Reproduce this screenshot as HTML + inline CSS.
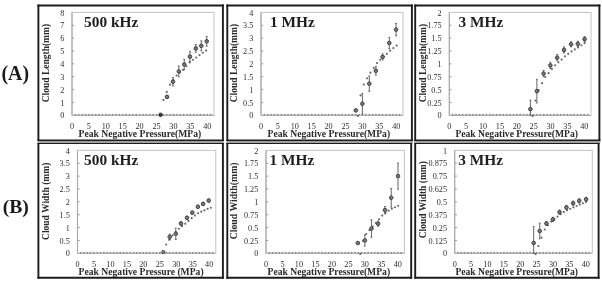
<!DOCTYPE html>
<html><head><meta charset="utf-8"><style>
html,body{margin:0;padding:0;background:#fff;}
body{width:602px;height:283px;overflow:hidden;font-family:"Liberation Serif",serif;}
svg{display:block;filter:blur(0.3px);}
</style></head><body>
<svg width="602" height="283" viewBox="0 0 602 283">
<rect x="0" y="0" width="602" height="283" fill="#fff"/>
<text x="1.5" y="79.5" font-family='"Liberation Serif", serif' font-weight="bold" font-size="20" fill="#1a1a1a" textLength="27.6" lengthAdjust="spacingAndGlyphs">(A)</text>
<text x="2.7" y="212.9" font-family='"Liberation Serif", serif' font-weight="bold" font-size="19.6" fill="#1a1a1a" textLength="26.2" lengthAdjust="spacingAndGlyphs">(B)</text>
<rect x="37.5" y="141" width="186.3" height="2.05" fill="#a0a0a0"/>
<rect x="226.4" y="141" width="186.4" height="2.05" fill="#a0a0a0"/>
<rect x="414.3" y="141" width="186" height="2.05" fill="#a0a0a0"/>
<line x1="37.449999999999996" y1="5.5" x2="223.85" y2="5.5" stroke="#1c1c1c" stroke-width="1.9"/>
<line x1="37.449999999999996" y1="140.3" x2="223.85" y2="140.3" stroke="#1c1c1c" stroke-width="1.4"/>
<line x1="38.4" y1="4.55" x2="38.4" y2="141.0" stroke="#1c1c1c" stroke-width="1.9"/>
<line x1="222.9" y1="4.55" x2="222.9" y2="141.0" stroke="#1c1c1c" stroke-width="1.9"/>
<rect x="72.0" y="12.4" width="142.00" height="102.90" fill="none" stroke="#c4c4c4" stroke-width="1"/>
<line x1="72.0" y1="12.4" x2="72.0" y2="115.3" stroke="#a8a8a8" stroke-width="1.1"/>
<line x1="72.0" y1="115.3" x2="214.0" y2="115.3" stroke="#a8a8a8" stroke-width="1.1"/>
<text x="64.30" y="118.40" text-anchor="end" font-family='"Liberation Serif", serif' font-size="8.2" fill="#2e2e2e">0</text>
<line x1="72.0" y1="102.44" x2="74.20" y2="102.44" stroke="#999" stroke-width="1"/>
<text x="64.30" y="105.54" text-anchor="end" font-family='"Liberation Serif", serif' font-size="8.2" fill="#2e2e2e">1</text>
<line x1="72.0" y1="89.58" x2="74.20" y2="89.58" stroke="#999" stroke-width="1"/>
<text x="64.30" y="92.67" text-anchor="end" font-family='"Liberation Serif", serif' font-size="8.2" fill="#2e2e2e">2</text>
<line x1="72.0" y1="76.71" x2="74.20" y2="76.71" stroke="#999" stroke-width="1"/>
<text x="64.30" y="79.81" text-anchor="end" font-family='"Liberation Serif", serif' font-size="8.2" fill="#2e2e2e">3</text>
<line x1="72.0" y1="63.85" x2="74.20" y2="63.85" stroke="#999" stroke-width="1"/>
<text x="64.30" y="66.95" text-anchor="end" font-family='"Liberation Serif", serif' font-size="8.2" fill="#2e2e2e">4</text>
<line x1="72.0" y1="50.99" x2="74.20" y2="50.99" stroke="#999" stroke-width="1"/>
<text x="64.30" y="54.09" text-anchor="end" font-family='"Liberation Serif", serif' font-size="8.2" fill="#2e2e2e">5</text>
<line x1="72.0" y1="38.12" x2="74.20" y2="38.12" stroke="#999" stroke-width="1"/>
<text x="64.30" y="41.23" text-anchor="end" font-family='"Liberation Serif", serif' font-size="8.2" fill="#2e2e2e">6</text>
<line x1="72.0" y1="25.26" x2="74.20" y2="25.26" stroke="#999" stroke-width="1"/>
<text x="64.30" y="28.36" text-anchor="end" font-family='"Liberation Serif", serif' font-size="8.2" fill="#2e2e2e">7</text>
<text x="64.30" y="15.50" text-anchor="end" font-family='"Liberation Serif", serif' font-size="8.2" fill="#2e2e2e">8</text>
<circle cx="75.38" cy="114.70" r="0.85" fill="#8a8a8a"/>
<circle cx="78.76" cy="114.70" r="0.85" fill="#8a8a8a"/>
<circle cx="82.14" cy="114.70" r="0.85" fill="#8a8a8a"/>
<circle cx="85.52" cy="114.70" r="0.85" fill="#8a8a8a"/>
<circle cx="88.90" cy="114.70" r="0.85" fill="#8a8a8a"/>
<circle cx="92.29" cy="114.70" r="0.85" fill="#8a8a8a"/>
<circle cx="95.67" cy="114.70" r="0.85" fill="#8a8a8a"/>
<circle cx="99.05" cy="114.70" r="0.85" fill="#8a8a8a"/>
<circle cx="102.43" cy="114.70" r="0.85" fill="#8a8a8a"/>
<circle cx="105.81" cy="114.70" r="0.85" fill="#8a8a8a"/>
<circle cx="109.19" cy="114.70" r="0.85" fill="#8a8a8a"/>
<circle cx="112.57" cy="114.70" r="0.85" fill="#8a8a8a"/>
<circle cx="115.95" cy="114.70" r="0.85" fill="#8a8a8a"/>
<circle cx="119.33" cy="114.70" r="0.85" fill="#8a8a8a"/>
<circle cx="122.71" cy="114.70" r="0.85" fill="#8a8a8a"/>
<circle cx="126.10" cy="114.70" r="0.85" fill="#8a8a8a"/>
<circle cx="129.48" cy="114.70" r="0.85" fill="#8a8a8a"/>
<circle cx="132.86" cy="114.70" r="0.85" fill="#8a8a8a"/>
<circle cx="136.24" cy="114.70" r="0.85" fill="#8a8a8a"/>
<circle cx="139.62" cy="114.70" r="0.85" fill="#8a8a8a"/>
<circle cx="143.00" cy="114.70" r="0.85" fill="#8a8a8a"/>
<circle cx="146.38" cy="114.70" r="0.85" fill="#8a8a8a"/>
<circle cx="149.76" cy="114.70" r="0.85" fill="#8a8a8a"/>
<circle cx="153.14" cy="114.70" r="0.85" fill="#8a8a8a"/>
<circle cx="156.52" cy="114.70" r="0.85" fill="#8a8a8a"/>
<circle cx="159.90" cy="114.70" r="0.85" fill="#8a8a8a"/>
<circle cx="163.29" cy="114.70" r="0.85" fill="#8a8a8a"/>
<circle cx="166.67" cy="114.70" r="0.85" fill="#8a8a8a"/>
<circle cx="170.05" cy="114.70" r="0.85" fill="#8a8a8a"/>
<circle cx="173.43" cy="114.70" r="0.85" fill="#8a8a8a"/>
<circle cx="176.81" cy="114.70" r="0.85" fill="#8a8a8a"/>
<circle cx="180.19" cy="114.70" r="0.85" fill="#8a8a8a"/>
<circle cx="183.57" cy="114.70" r="0.85" fill="#8a8a8a"/>
<circle cx="186.95" cy="114.70" r="0.85" fill="#8a8a8a"/>
<circle cx="190.33" cy="114.70" r="0.85" fill="#8a8a8a"/>
<circle cx="193.71" cy="114.70" r="0.85" fill="#8a8a8a"/>
<circle cx="197.10" cy="114.70" r="0.85" fill="#8a8a8a"/>
<circle cx="200.48" cy="114.70" r="0.85" fill="#8a8a8a"/>
<circle cx="203.86" cy="114.70" r="0.85" fill="#8a8a8a"/>
<circle cx="207.24" cy="114.70" r="0.85" fill="#8a8a8a"/>
<circle cx="210.62" cy="114.70" r="0.85" fill="#8a8a8a"/>
<text x="72.00" y="129.30" text-anchor="middle" font-family='"Liberation Serif", serif' font-size="8.2" fill="#2e2e2e">0</text>
<text x="88.90" y="129.30" text-anchor="middle" font-family='"Liberation Serif", serif' font-size="8.2" fill="#2e2e2e">5</text>
<text x="105.81" y="129.30" text-anchor="middle" font-family='"Liberation Serif", serif' font-size="8.2" fill="#2e2e2e">10</text>
<text x="122.71" y="129.30" text-anchor="middle" font-family='"Liberation Serif", serif' font-size="8.2" fill="#2e2e2e">15</text>
<text x="139.62" y="129.30" text-anchor="middle" font-family='"Liberation Serif", serif' font-size="8.2" fill="#2e2e2e">20</text>
<text x="156.52" y="129.30" text-anchor="middle" font-family='"Liberation Serif", serif' font-size="8.2" fill="#2e2e2e">25</text>
<text x="173.43" y="129.30" text-anchor="middle" font-family='"Liberation Serif", serif' font-size="8.2" fill="#2e2e2e">30</text>
<text x="190.33" y="129.30" text-anchor="middle" font-family='"Liberation Serif", serif' font-size="8.2" fill="#2e2e2e">35</text>
<text x="207.24" y="129.30" text-anchor="middle" font-family='"Liberation Serif", serif' font-size="8.2" fill="#2e2e2e">40</text>
<text x="84.1" y="26.9" font-family='"Liberation Serif", serif' font-weight="bold" font-size="15.35" fill="#1e1e1e">500 kHz</text>
<text x="78.60" y="136.50" font-family='"Liberation Serif", serif' font-weight="bold" font-size="9.65" fill="#2a2a2a">Peak Negative Pressure(MPa)</text>
<text transform="translate(49.2,63.1) rotate(-90)" text-anchor="middle" font-family='"Liberation Serif", serif' font-weight="bold" font-size="9.5" fill="#2a2a2a">Cloud Length(mm)</text>
<circle cx="163.45" cy="99.90" r="1.1" fill="#6a6a6a"/>
<circle cx="166.73" cy="91.95" r="1.1" fill="#6a6a6a"/>
<circle cx="170.01" cy="84.66" r="1.1" fill="#6a6a6a"/>
<circle cx="173.29" cy="80.12" r="1.1" fill="#6a6a6a"/>
<circle cx="176.57" cy="75.61" r="1.1" fill="#6a6a6a"/>
<circle cx="179.85" cy="72.41" r="1.1" fill="#6a6a6a"/>
<circle cx="183.13" cy="69.96" r="1.1" fill="#6a6a6a"/>
<circle cx="186.41" cy="66.27" r="1.1" fill="#6a6a6a"/>
<circle cx="189.69" cy="62.44" r="1.1" fill="#6a6a6a"/>
<circle cx="192.97" cy="59.74" r="1.1" fill="#6a6a6a"/>
<circle cx="196.25" cy="57.58" r="1.1" fill="#6a6a6a"/>
<circle cx="199.53" cy="55.10" r="1.1" fill="#6a6a6a"/>
<circle cx="202.81" cy="52.75" r="1.1" fill="#6a6a6a"/>
<circle cx="206.09" cy="50.61" r="1.1" fill="#6a6a6a"/>
<circle cx="160.58" cy="114.80" r="1.9" fill="#333" stroke="#333" stroke-width="0.6"/>
<line x1="167.00" y1="95.36" x2="167.00" y2="98.45" stroke="#555" stroke-width="0.9"/>
<line x1="166.00" y1="95.36" x2="168.00" y2="95.36" stroke="#555" stroke-width="0.8"/>
<line x1="166.00" y1="98.45" x2="168.00" y2="98.45" stroke="#555" stroke-width="0.8"/>
<circle cx="167.00" cy="96.91" r="1.8" fill="#7a7a7a" stroke="#3a3a3a" stroke-width="0.95"/>
<line x1="172.96" y1="77.48" x2="172.96" y2="85.97" stroke="#555" stroke-width="0.9"/>
<line x1="171.96" y1="77.48" x2="173.96" y2="77.48" stroke="#555" stroke-width="0.8"/>
<line x1="171.96" y1="85.97" x2="173.96" y2="85.97" stroke="#555" stroke-width="0.8"/>
<circle cx="172.96" cy="81.73" r="1.8" fill="#7a7a7a" stroke="#3a3a3a" stroke-width="0.95"/>
<line x1="178.80" y1="66.04" x2="178.80" y2="76.84" stroke="#555" stroke-width="0.9"/>
<line x1="177.80" y1="66.04" x2="179.80" y2="66.04" stroke="#555" stroke-width="0.8"/>
<line x1="177.80" y1="76.84" x2="179.80" y2="76.84" stroke="#555" stroke-width="0.8"/>
<circle cx="178.80" cy="71.44" r="1.8" fill="#7a7a7a" stroke="#3a3a3a" stroke-width="0.95"/>
<line x1="184.25" y1="59.35" x2="184.25" y2="69.64" stroke="#555" stroke-width="0.9"/>
<line x1="183.25" y1="59.35" x2="185.25" y2="59.35" stroke="#555" stroke-width="0.8"/>
<line x1="183.25" y1="69.64" x2="185.25" y2="69.64" stroke="#555" stroke-width="0.8"/>
<circle cx="184.25" cy="64.49" r="1.8" fill="#7a7a7a" stroke="#3a3a3a" stroke-width="0.95"/>
<line x1="189.96" y1="51.63" x2="189.96" y2="61.66" stroke="#555" stroke-width="0.9"/>
<line x1="188.96" y1="51.63" x2="190.96" y2="51.63" stroke="#555" stroke-width="0.8"/>
<line x1="188.96" y1="61.66" x2="190.96" y2="61.66" stroke="#555" stroke-width="0.8"/>
<circle cx="189.96" cy="56.65" r="1.8" fill="#7a7a7a" stroke="#3a3a3a" stroke-width="0.95"/>
<line x1="195.81" y1="44.43" x2="195.81" y2="52.40" stroke="#555" stroke-width="0.9"/>
<line x1="194.81" y1="44.43" x2="196.81" y2="44.43" stroke="#555" stroke-width="0.8"/>
<line x1="194.81" y1="52.40" x2="196.81" y2="52.40" stroke="#555" stroke-width="0.8"/>
<circle cx="195.81" cy="48.42" r="1.8" fill="#7a7a7a" stroke="#3a3a3a" stroke-width="0.95"/>
<line x1="201.29" y1="40.83" x2="201.29" y2="50.86" stroke="#555" stroke-width="0.9"/>
<line x1="200.29" y1="40.83" x2="202.29" y2="40.83" stroke="#555" stroke-width="0.8"/>
<line x1="200.29" y1="50.86" x2="202.29" y2="50.86" stroke="#555" stroke-width="0.8"/>
<circle cx="201.29" cy="45.84" r="1.8" fill="#7a7a7a" stroke="#3a3a3a" stroke-width="0.95"/>
<line x1="206.70" y1="36.45" x2="206.70" y2="46.23" stroke="#555" stroke-width="0.9"/>
<line x1="205.70" y1="36.45" x2="207.70" y2="36.45" stroke="#555" stroke-width="0.8"/>
<line x1="205.70" y1="46.23" x2="207.70" y2="46.23" stroke="#555" stroke-width="0.8"/>
<circle cx="206.70" cy="41.34" r="1.8" fill="#7a7a7a" stroke="#3a3a3a" stroke-width="0.95"/>
<line x1="226.35000000000002" y1="5.5" x2="412.84999999999997" y2="5.5" stroke="#1c1c1c" stroke-width="1.9"/>
<line x1="226.35000000000002" y1="140.3" x2="412.84999999999997" y2="140.3" stroke="#1c1c1c" stroke-width="1.4"/>
<line x1="227.3" y1="4.55" x2="227.3" y2="141.0" stroke="#1c1c1c" stroke-width="1.9"/>
<line x1="411.9" y1="4.55" x2="411.9" y2="141.0" stroke="#1c1c1c" stroke-width="1.9"/>
<rect x="261.0" y="12.4" width="142.00" height="102.90" fill="none" stroke="#c4c4c4" stroke-width="1"/>
<line x1="261.0" y1="12.4" x2="261.0" y2="115.3" stroke="#a8a8a8" stroke-width="1.1"/>
<line x1="261.0" y1="115.3" x2="403.0" y2="115.3" stroke="#a8a8a8" stroke-width="1.1"/>
<text x="253.30" y="118.40" text-anchor="end" font-family='"Liberation Serif", serif' font-size="8.2" fill="#2e2e2e">0</text>
<line x1="261.0" y1="102.44" x2="263.20" y2="102.44" stroke="#999" stroke-width="1"/>
<text x="253.30" y="105.54" text-anchor="end" font-family='"Liberation Serif", serif' font-size="8.2" fill="#2e2e2e">0.5</text>
<line x1="261.0" y1="89.58" x2="263.20" y2="89.58" stroke="#999" stroke-width="1"/>
<text x="253.30" y="92.67" text-anchor="end" font-family='"Liberation Serif", serif' font-size="8.2" fill="#2e2e2e">1</text>
<line x1="261.0" y1="76.71" x2="263.20" y2="76.71" stroke="#999" stroke-width="1"/>
<text x="253.30" y="79.81" text-anchor="end" font-family='"Liberation Serif", serif' font-size="8.2" fill="#2e2e2e">1.5</text>
<line x1="261.0" y1="63.85" x2="263.20" y2="63.85" stroke="#999" stroke-width="1"/>
<text x="253.30" y="66.95" text-anchor="end" font-family='"Liberation Serif", serif' font-size="8.2" fill="#2e2e2e">2</text>
<line x1="261.0" y1="50.99" x2="263.20" y2="50.99" stroke="#999" stroke-width="1"/>
<text x="253.30" y="54.09" text-anchor="end" font-family='"Liberation Serif", serif' font-size="8.2" fill="#2e2e2e">2.5</text>
<line x1="261.0" y1="38.12" x2="263.20" y2="38.12" stroke="#999" stroke-width="1"/>
<text x="253.30" y="41.23" text-anchor="end" font-family='"Liberation Serif", serif' font-size="8.2" fill="#2e2e2e">3</text>
<line x1="261.0" y1="25.26" x2="263.20" y2="25.26" stroke="#999" stroke-width="1"/>
<text x="253.30" y="28.36" text-anchor="end" font-family='"Liberation Serif", serif' font-size="8.2" fill="#2e2e2e">3.5</text>
<text x="253.30" y="15.50" text-anchor="end" font-family='"Liberation Serif", serif' font-size="8.2" fill="#2e2e2e">4</text>
<circle cx="264.38" cy="114.70" r="0.85" fill="#8a8a8a"/>
<circle cx="267.76" cy="114.70" r="0.85" fill="#8a8a8a"/>
<circle cx="271.14" cy="114.70" r="0.85" fill="#8a8a8a"/>
<circle cx="274.52" cy="114.70" r="0.85" fill="#8a8a8a"/>
<circle cx="277.90" cy="114.70" r="0.85" fill="#8a8a8a"/>
<circle cx="281.29" cy="114.70" r="0.85" fill="#8a8a8a"/>
<circle cx="284.67" cy="114.70" r="0.85" fill="#8a8a8a"/>
<circle cx="288.05" cy="114.70" r="0.85" fill="#8a8a8a"/>
<circle cx="291.43" cy="114.70" r="0.85" fill="#8a8a8a"/>
<circle cx="294.81" cy="114.70" r="0.85" fill="#8a8a8a"/>
<circle cx="298.19" cy="114.70" r="0.85" fill="#8a8a8a"/>
<circle cx="301.57" cy="114.70" r="0.85" fill="#8a8a8a"/>
<circle cx="304.95" cy="114.70" r="0.85" fill="#8a8a8a"/>
<circle cx="308.33" cy="114.70" r="0.85" fill="#8a8a8a"/>
<circle cx="311.71" cy="114.70" r="0.85" fill="#8a8a8a"/>
<circle cx="315.10" cy="114.70" r="0.85" fill="#8a8a8a"/>
<circle cx="318.48" cy="114.70" r="0.85" fill="#8a8a8a"/>
<circle cx="321.86" cy="114.70" r="0.85" fill="#8a8a8a"/>
<circle cx="325.24" cy="114.70" r="0.85" fill="#8a8a8a"/>
<circle cx="328.62" cy="114.70" r="0.85" fill="#8a8a8a"/>
<circle cx="332.00" cy="114.70" r="0.85" fill="#8a8a8a"/>
<circle cx="335.38" cy="114.70" r="0.85" fill="#8a8a8a"/>
<circle cx="338.76" cy="114.70" r="0.85" fill="#8a8a8a"/>
<circle cx="342.14" cy="114.70" r="0.85" fill="#8a8a8a"/>
<circle cx="345.52" cy="114.70" r="0.85" fill="#8a8a8a"/>
<circle cx="348.90" cy="114.70" r="0.85" fill="#8a8a8a"/>
<circle cx="352.29" cy="114.70" r="0.85" fill="#8a8a8a"/>
<circle cx="355.67" cy="114.70" r="0.85" fill="#8a8a8a"/>
<circle cx="359.05" cy="114.70" r="0.85" fill="#8a8a8a"/>
<circle cx="362.43" cy="114.70" r="0.85" fill="#8a8a8a"/>
<circle cx="365.81" cy="114.70" r="0.85" fill="#8a8a8a"/>
<circle cx="369.19" cy="114.70" r="0.85" fill="#8a8a8a"/>
<circle cx="372.57" cy="114.70" r="0.85" fill="#8a8a8a"/>
<circle cx="375.95" cy="114.70" r="0.85" fill="#8a8a8a"/>
<circle cx="379.33" cy="114.70" r="0.85" fill="#8a8a8a"/>
<circle cx="382.71" cy="114.70" r="0.85" fill="#8a8a8a"/>
<circle cx="386.10" cy="114.70" r="0.85" fill="#8a8a8a"/>
<circle cx="389.48" cy="114.70" r="0.85" fill="#8a8a8a"/>
<circle cx="392.86" cy="114.70" r="0.85" fill="#8a8a8a"/>
<circle cx="396.24" cy="114.70" r="0.85" fill="#8a8a8a"/>
<circle cx="399.62" cy="114.70" r="0.85" fill="#8a8a8a"/>
<text x="261.00" y="129.30" text-anchor="middle" font-family='"Liberation Serif", serif' font-size="8.2" fill="#2e2e2e">0</text>
<text x="277.90" y="129.30" text-anchor="middle" font-family='"Liberation Serif", serif' font-size="8.2" fill="#2e2e2e">5</text>
<text x="294.81" y="129.30" text-anchor="middle" font-family='"Liberation Serif", serif' font-size="8.2" fill="#2e2e2e">10</text>
<text x="311.71" y="129.30" text-anchor="middle" font-family='"Liberation Serif", serif' font-size="8.2" fill="#2e2e2e">15</text>
<text x="328.62" y="129.30" text-anchor="middle" font-family='"Liberation Serif", serif' font-size="8.2" fill="#2e2e2e">20</text>
<text x="345.52" y="129.30" text-anchor="middle" font-family='"Liberation Serif", serif' font-size="8.2" fill="#2e2e2e">25</text>
<text x="362.43" y="129.30" text-anchor="middle" font-family='"Liberation Serif", serif' font-size="8.2" fill="#2e2e2e">30</text>
<text x="379.33" y="129.30" text-anchor="middle" font-family='"Liberation Serif", serif' font-size="8.2" fill="#2e2e2e">35</text>
<text x="396.24" y="129.30" text-anchor="middle" font-family='"Liberation Serif", serif' font-size="8.2" fill="#2e2e2e">40</text>
<text x="270.1" y="26.9" font-family='"Liberation Serif", serif' font-weight="bold" font-size="15.35" fill="#1e1e1e">1 MHz</text>
<text x="267.50" y="136.50" font-family='"Liberation Serif", serif' font-weight="bold" font-size="9.65" fill="#2a2a2a">Peak Negative Pressure(MPa)</text>
<text transform="translate(236.9,63.1) rotate(-90)" text-anchor="middle" font-family='"Liberation Serif", serif' font-weight="bold" font-size="9.5" fill="#2a2a2a">Cloud Length(mm)</text>
<circle cx="360.57" cy="95.46" r="1.1" fill="#6a6a6a"/>
<circle cx="363.85" cy="84.62" r="1.1" fill="#6a6a6a"/>
<circle cx="367.13" cy="78.35" r="1.1" fill="#6a6a6a"/>
<circle cx="370.41" cy="72.66" r="1.1" fill="#6a6a6a"/>
<circle cx="373.69" cy="67.79" r="1.1" fill="#6a6a6a"/>
<circle cx="376.97" cy="63.08" r="1.1" fill="#6a6a6a"/>
<circle cx="380.25" cy="59.76" r="1.1" fill="#6a6a6a"/>
<circle cx="383.53" cy="56.59" r="1.1" fill="#6a6a6a"/>
<circle cx="386.81" cy="53.84" r="1.1" fill="#6a6a6a"/>
<circle cx="390.08" cy="50.63" r="1.1" fill="#6a6a6a"/>
<circle cx="393.36" cy="48.03" r="1.1" fill="#6a6a6a"/>
<circle cx="396.64" cy="45.72" r="1.1" fill="#6a6a6a"/>
<circle cx="357.70" cy="115.90" r="1.0" fill="#555"/>
<circle cx="355.80" cy="110.41" r="1.8" fill="#7a7a7a" stroke="#3a3a3a" stroke-width="0.95"/>
<line x1="362.39" y1="93.43" x2="362.39" y2="114.01" stroke="#555" stroke-width="0.9"/>
<line x1="361.39" y1="93.43" x2="363.39" y2="93.43" stroke="#555" stroke-width="0.8"/>
<line x1="361.39" y1="114.01" x2="363.39" y2="114.01" stroke="#555" stroke-width="0.8"/>
<circle cx="362.39" cy="103.72" r="1.8" fill="#7a7a7a" stroke="#3a3a3a" stroke-width="0.95"/>
<line x1="369.29" y1="75.94" x2="369.29" y2="91.38" stroke="#555" stroke-width="0.9"/>
<line x1="368.29" y1="75.94" x2="370.29" y2="75.94" stroke="#555" stroke-width="0.8"/>
<line x1="368.29" y1="91.38" x2="370.29" y2="91.38" stroke="#555" stroke-width="0.8"/>
<circle cx="369.29" cy="83.66" r="1.8" fill="#7a7a7a" stroke="#3a3a3a" stroke-width="0.95"/>
<line x1="375.88" y1="66.42" x2="375.88" y2="75.17" stroke="#555" stroke-width="0.9"/>
<line x1="374.88" y1="66.42" x2="376.88" y2="66.42" stroke="#555" stroke-width="0.8"/>
<line x1="374.88" y1="75.17" x2="376.88" y2="75.17" stroke="#555" stroke-width="0.8"/>
<circle cx="375.88" cy="70.80" r="1.8" fill="#7a7a7a" stroke="#3a3a3a" stroke-width="0.95"/>
<line x1="382.61" y1="53.82" x2="382.61" y2="59.99" stroke="#555" stroke-width="0.9"/>
<line x1="381.61" y1="53.82" x2="383.61" y2="53.82" stroke="#555" stroke-width="0.8"/>
<line x1="381.61" y1="59.99" x2="383.61" y2="59.99" stroke="#555" stroke-width="0.8"/>
<circle cx="382.61" cy="56.90" r="1.8" fill="#7a7a7a" stroke="#3a3a3a" stroke-width="0.95"/>
<line x1="389.31" y1="37.35" x2="389.31" y2="48.67" stroke="#555" stroke-width="0.9"/>
<line x1="388.31" y1="37.35" x2="390.31" y2="37.35" stroke="#555" stroke-width="0.8"/>
<line x1="388.31" y1="48.67" x2="390.31" y2="48.67" stroke="#555" stroke-width="0.8"/>
<circle cx="389.31" cy="43.01" r="1.8" fill="#7a7a7a" stroke="#3a3a3a" stroke-width="0.95"/>
<line x1="396.10" y1="23.46" x2="396.10" y2="35.81" stroke="#555" stroke-width="0.9"/>
<line x1="395.10" y1="23.46" x2="397.10" y2="23.46" stroke="#555" stroke-width="0.8"/>
<line x1="395.10" y1="35.81" x2="397.10" y2="35.81" stroke="#555" stroke-width="0.8"/>
<circle cx="396.10" cy="29.64" r="1.8" fill="#7a7a7a" stroke="#3a3a3a" stroke-width="0.95"/>
<line x1="414.25" y1="5.5" x2="600.35" y2="5.5" stroke="#1c1c1c" stroke-width="1.9"/>
<line x1="414.25" y1="140.3" x2="600.35" y2="140.3" stroke="#1c1c1c" stroke-width="1.4"/>
<line x1="415.2" y1="4.55" x2="415.2" y2="141.0" stroke="#1c1c1c" stroke-width="1.9"/>
<line x1="599.4" y1="4.55" x2="599.4" y2="141.0" stroke="#1c1c1c" stroke-width="1.9"/>
<rect x="449.3" y="12.4" width="141.70" height="102.90" fill="none" stroke="#c4c4c4" stroke-width="1"/>
<line x1="449.3" y1="12.4" x2="449.3" y2="115.3" stroke="#a8a8a8" stroke-width="1.1"/>
<line x1="449.3" y1="115.3" x2="591.0" y2="115.3" stroke="#a8a8a8" stroke-width="1.1"/>
<text x="441.60" y="118.40" text-anchor="end" font-family='"Liberation Serif", serif' font-size="8.2" fill="#2e2e2e">0</text>
<line x1="449.3" y1="102.44" x2="451.50" y2="102.44" stroke="#999" stroke-width="1"/>
<text x="441.60" y="105.54" text-anchor="end" font-family='"Liberation Serif", serif' font-size="8.2" fill="#2e2e2e">0.25</text>
<line x1="449.3" y1="89.58" x2="451.50" y2="89.58" stroke="#999" stroke-width="1"/>
<text x="441.60" y="92.67" text-anchor="end" font-family='"Liberation Serif", serif' font-size="8.2" fill="#2e2e2e">0.5</text>
<line x1="449.3" y1="76.71" x2="451.50" y2="76.71" stroke="#999" stroke-width="1"/>
<text x="441.60" y="79.81" text-anchor="end" font-family='"Liberation Serif", serif' font-size="8.2" fill="#2e2e2e">0.75</text>
<line x1="449.3" y1="63.85" x2="451.50" y2="63.85" stroke="#999" stroke-width="1"/>
<text x="441.60" y="66.95" text-anchor="end" font-family='"Liberation Serif", serif' font-size="8.2" fill="#2e2e2e">1</text>
<line x1="449.3" y1="50.99" x2="451.50" y2="50.99" stroke="#999" stroke-width="1"/>
<text x="441.60" y="54.09" text-anchor="end" font-family='"Liberation Serif", serif' font-size="8.2" fill="#2e2e2e">1.25</text>
<line x1="449.3" y1="38.12" x2="451.50" y2="38.12" stroke="#999" stroke-width="1"/>
<text x="441.60" y="41.23" text-anchor="end" font-family='"Liberation Serif", serif' font-size="8.2" fill="#2e2e2e">1.5</text>
<line x1="449.3" y1="25.26" x2="451.50" y2="25.26" stroke="#999" stroke-width="1"/>
<text x="441.60" y="28.36" text-anchor="end" font-family='"Liberation Serif", serif' font-size="8.2" fill="#2e2e2e">1.75</text>
<text x="441.60" y="15.50" text-anchor="end" font-family='"Liberation Serif", serif' font-size="8.2" fill="#2e2e2e">2</text>
<circle cx="452.67" cy="114.70" r="0.85" fill="#8a8a8a"/>
<circle cx="456.05" cy="114.70" r="0.85" fill="#8a8a8a"/>
<circle cx="459.42" cy="114.70" r="0.85" fill="#8a8a8a"/>
<circle cx="462.80" cy="114.70" r="0.85" fill="#8a8a8a"/>
<circle cx="466.17" cy="114.70" r="0.85" fill="#8a8a8a"/>
<circle cx="469.54" cy="114.70" r="0.85" fill="#8a8a8a"/>
<circle cx="472.92" cy="114.70" r="0.85" fill="#8a8a8a"/>
<circle cx="476.29" cy="114.70" r="0.85" fill="#8a8a8a"/>
<circle cx="479.66" cy="114.70" r="0.85" fill="#8a8a8a"/>
<circle cx="483.04" cy="114.70" r="0.85" fill="#8a8a8a"/>
<circle cx="486.41" cy="114.70" r="0.85" fill="#8a8a8a"/>
<circle cx="489.79" cy="114.70" r="0.85" fill="#8a8a8a"/>
<circle cx="493.16" cy="114.70" r="0.85" fill="#8a8a8a"/>
<circle cx="496.53" cy="114.70" r="0.85" fill="#8a8a8a"/>
<circle cx="499.91" cy="114.70" r="0.85" fill="#8a8a8a"/>
<circle cx="503.28" cy="114.70" r="0.85" fill="#8a8a8a"/>
<circle cx="506.65" cy="114.70" r="0.85" fill="#8a8a8a"/>
<circle cx="510.03" cy="114.70" r="0.85" fill="#8a8a8a"/>
<circle cx="513.40" cy="114.70" r="0.85" fill="#8a8a8a"/>
<circle cx="516.78" cy="114.70" r="0.85" fill="#8a8a8a"/>
<circle cx="520.15" cy="114.70" r="0.85" fill="#8a8a8a"/>
<circle cx="523.52" cy="114.70" r="0.85" fill="#8a8a8a"/>
<circle cx="526.90" cy="114.70" r="0.85" fill="#8a8a8a"/>
<circle cx="530.27" cy="114.70" r="0.85" fill="#8a8a8a"/>
<circle cx="533.65" cy="114.70" r="0.85" fill="#8a8a8a"/>
<circle cx="537.02" cy="114.70" r="0.85" fill="#8a8a8a"/>
<circle cx="540.39" cy="114.70" r="0.85" fill="#8a8a8a"/>
<circle cx="543.77" cy="114.70" r="0.85" fill="#8a8a8a"/>
<circle cx="547.14" cy="114.70" r="0.85" fill="#8a8a8a"/>
<circle cx="550.51" cy="114.70" r="0.85" fill="#8a8a8a"/>
<circle cx="553.89" cy="114.70" r="0.85" fill="#8a8a8a"/>
<circle cx="557.26" cy="114.70" r="0.85" fill="#8a8a8a"/>
<circle cx="560.64" cy="114.70" r="0.85" fill="#8a8a8a"/>
<circle cx="564.01" cy="114.70" r="0.85" fill="#8a8a8a"/>
<circle cx="567.38" cy="114.70" r="0.85" fill="#8a8a8a"/>
<circle cx="570.76" cy="114.70" r="0.85" fill="#8a8a8a"/>
<circle cx="574.13" cy="114.70" r="0.85" fill="#8a8a8a"/>
<circle cx="577.50" cy="114.70" r="0.85" fill="#8a8a8a"/>
<circle cx="580.88" cy="114.70" r="0.85" fill="#8a8a8a"/>
<circle cx="584.25" cy="114.70" r="0.85" fill="#8a8a8a"/>
<circle cx="587.63" cy="114.70" r="0.85" fill="#8a8a8a"/>
<text x="449.30" y="129.30" text-anchor="middle" font-family='"Liberation Serif", serif' font-size="8.2" fill="#2e2e2e">0</text>
<text x="466.17" y="129.30" text-anchor="middle" font-family='"Liberation Serif", serif' font-size="8.2" fill="#2e2e2e">5</text>
<text x="483.04" y="129.30" text-anchor="middle" font-family='"Liberation Serif", serif' font-size="8.2" fill="#2e2e2e">10</text>
<text x="499.91" y="129.30" text-anchor="middle" font-family='"Liberation Serif", serif' font-size="8.2" fill="#2e2e2e">15</text>
<text x="516.78" y="129.30" text-anchor="middle" font-family='"Liberation Serif", serif' font-size="8.2" fill="#2e2e2e">20</text>
<text x="533.65" y="129.30" text-anchor="middle" font-family='"Liberation Serif", serif' font-size="8.2" fill="#2e2e2e">25</text>
<text x="550.51" y="129.30" text-anchor="middle" font-family='"Liberation Serif", serif' font-size="8.2" fill="#2e2e2e">30</text>
<text x="567.38" y="129.30" text-anchor="middle" font-family='"Liberation Serif", serif' font-size="8.2" fill="#2e2e2e">35</text>
<text x="584.25" y="129.30" text-anchor="middle" font-family='"Liberation Serif", serif' font-size="8.2" fill="#2e2e2e">40</text>
<text x="458.6" y="26.9" font-family='"Liberation Serif", serif' font-weight="bold" font-size="15.35" fill="#1e1e1e">3 MHz</text>
<text x="455.40" y="136.50" font-family='"Liberation Serif", serif' font-weight="bold" font-size="9.65" fill="#2a2a2a">Peak Negative Pressure(MPa)</text>
<text transform="translate(425.8,63.1) rotate(-90)" text-anchor="middle" font-family='"Liberation Serif", serif' font-weight="bold" font-size="9.5" fill="#2a2a2a">Cloud Length(mm)</text>
<circle cx="535.50" cy="100.48" r="1.1" fill="#6a6a6a"/>
<circle cx="538.77" cy="90.36" r="1.1" fill="#6a6a6a"/>
<circle cx="542.05" cy="83.13" r="1.1" fill="#6a6a6a"/>
<circle cx="545.32" cy="76.99" r="1.1" fill="#6a6a6a"/>
<circle cx="548.59" cy="73.15" r="1.1" fill="#6a6a6a"/>
<circle cx="551.86" cy="68.93" r="1.1" fill="#6a6a6a"/>
<circle cx="555.14" cy="65.35" r="1.1" fill="#6a6a6a"/>
<circle cx="558.41" cy="62.36" r="1.1" fill="#6a6a6a"/>
<circle cx="561.68" cy="59.53" r="1.1" fill="#6a6a6a"/>
<circle cx="564.95" cy="56.37" r="1.1" fill="#6a6a6a"/>
<circle cx="568.23" cy="53.86" r="1.1" fill="#6a6a6a"/>
<circle cx="571.50" cy="51.45" r="1.1" fill="#6a6a6a"/>
<circle cx="574.77" cy="49.46" r="1.1" fill="#6a6a6a"/>
<circle cx="578.04" cy="47.39" r="1.1" fill="#6a6a6a"/>
<circle cx="581.32" cy="45.27" r="1.1" fill="#6a6a6a"/>
<circle cx="584.59" cy="43.16" r="1.1" fill="#6a6a6a"/>
<circle cx="532.63" cy="115.90" r="1.0" fill="#555"/>
<line x1="530.41" y1="100.12" x2="530.41" y2="115.30" stroke="#555" stroke-width="0.9"/>
<line x1="529.41" y1="100.12" x2="531.41" y2="100.12" stroke="#555" stroke-width="0.8"/>
<line x1="529.41" y1="115.30" x2="531.41" y2="115.30" stroke="#555" stroke-width="0.8"/>
<circle cx="530.41" cy="109.13" r="1.8" fill="#7a7a7a" stroke="#3a3a3a" stroke-width="0.95"/>
<line x1="536.88" y1="79.28" x2="536.88" y2="102.95" stroke="#555" stroke-width="0.9"/>
<line x1="535.88" y1="79.28" x2="537.88" y2="79.28" stroke="#555" stroke-width="0.8"/>
<line x1="535.88" y1="102.95" x2="537.88" y2="102.95" stroke="#555" stroke-width="0.8"/>
<circle cx="536.88" cy="91.12" r="1.8" fill="#7a7a7a" stroke="#3a3a3a" stroke-width="0.95"/>
<line x1="543.60" y1="70.54" x2="543.60" y2="76.71" stroke="#555" stroke-width="0.9"/>
<line x1="542.60" y1="70.54" x2="544.60" y2="70.54" stroke="#555" stroke-width="0.8"/>
<line x1="542.60" y1="76.71" x2="544.60" y2="76.71" stroke="#555" stroke-width="0.8"/>
<circle cx="543.60" cy="73.63" r="1.8" fill="#7a7a7a" stroke="#3a3a3a" stroke-width="0.95"/>
<line x1="550.38" y1="62.31" x2="550.38" y2="68.48" stroke="#555" stroke-width="0.9"/>
<line x1="549.38" y1="62.31" x2="551.38" y2="62.31" stroke="#555" stroke-width="0.8"/>
<line x1="549.38" y1="68.48" x2="551.38" y2="68.48" stroke="#555" stroke-width="0.8"/>
<circle cx="550.38" cy="65.39" r="1.8" fill="#7a7a7a" stroke="#3a3a3a" stroke-width="0.95"/>
<line x1="557.19" y1="54.59" x2="557.19" y2="60.76" stroke="#555" stroke-width="0.9"/>
<line x1="556.19" y1="54.59" x2="558.19" y2="54.59" stroke="#555" stroke-width="0.8"/>
<line x1="556.19" y1="60.76" x2="558.19" y2="60.76" stroke="#555" stroke-width="0.8"/>
<circle cx="557.19" cy="57.68" r="1.8" fill="#7a7a7a" stroke="#3a3a3a" stroke-width="0.95"/>
<line x1="564.01" y1="46.87" x2="564.01" y2="53.05" stroke="#555" stroke-width="0.9"/>
<line x1="563.01" y1="46.87" x2="565.01" y2="46.87" stroke="#555" stroke-width="0.8"/>
<line x1="563.01" y1="53.05" x2="565.01" y2="53.05" stroke="#555" stroke-width="0.8"/>
<circle cx="564.01" cy="49.96" r="1.8" fill="#7a7a7a" stroke="#3a3a3a" stroke-width="0.95"/>
<line x1="571.09" y1="41.73" x2="571.09" y2="46.87" stroke="#555" stroke-width="0.9"/>
<line x1="570.09" y1="41.73" x2="572.09" y2="41.73" stroke="#555" stroke-width="0.8"/>
<line x1="570.09" y1="46.87" x2="572.09" y2="46.87" stroke="#555" stroke-width="0.8"/>
<circle cx="571.09" cy="44.30" r="1.8" fill="#7a7a7a" stroke="#3a3a3a" stroke-width="0.95"/>
<line x1="577.84" y1="41.21" x2="577.84" y2="46.36" stroke="#555" stroke-width="0.9"/>
<line x1="576.84" y1="41.21" x2="578.84" y2="41.21" stroke="#555" stroke-width="0.8"/>
<line x1="576.84" y1="46.36" x2="578.84" y2="46.36" stroke="#555" stroke-width="0.8"/>
<circle cx="577.84" cy="43.78" r="1.8" fill="#7a7a7a" stroke="#3a3a3a" stroke-width="0.95"/>
<line x1="584.59" y1="36.58" x2="584.59" y2="41.73" stroke="#555" stroke-width="0.9"/>
<line x1="583.59" y1="36.58" x2="585.59" y2="36.58" stroke="#555" stroke-width="0.8"/>
<line x1="583.59" y1="41.73" x2="585.59" y2="41.73" stroke="#555" stroke-width="0.8"/>
<circle cx="584.59" cy="39.15" r="1.8" fill="#7a7a7a" stroke="#3a3a3a" stroke-width="0.95"/>
<line x1="37.449999999999996" y1="143.55" x2="223.85" y2="143.55" stroke="#1c1c1c" stroke-width="1.1"/>
<line x1="37.449999999999996" y1="277.7" x2="223.85" y2="277.7" stroke="#1c1c1c" stroke-width="1.9"/>
<line x1="38.4" y1="143.0" x2="38.4" y2="278.65" stroke="#1c1c1c" stroke-width="1.9"/>
<line x1="222.9" y1="143.0" x2="222.9" y2="278.65" stroke="#1c1c1c" stroke-width="1.9"/>
<rect x="77.5" y="150.4" width="138.30" height="102.90" fill="none" stroke="#c4c4c4" stroke-width="1"/>
<line x1="77.5" y1="150.4" x2="77.5" y2="253.3" stroke="#a8a8a8" stroke-width="1.1"/>
<line x1="77.5" y1="253.3" x2="215.8" y2="253.3" stroke="#a8a8a8" stroke-width="1.1"/>
<text x="69.80" y="256.40" text-anchor="end" font-family='"Liberation Serif", serif' font-size="8.2" fill="#2e2e2e">0</text>
<line x1="77.5" y1="240.44" x2="79.70" y2="240.44" stroke="#999" stroke-width="1"/>
<text x="69.80" y="243.54" text-anchor="end" font-family='"Liberation Serif", serif' font-size="8.2" fill="#2e2e2e">0.5</text>
<line x1="77.5" y1="227.58" x2="79.70" y2="227.58" stroke="#999" stroke-width="1"/>
<text x="69.80" y="230.68" text-anchor="end" font-family='"Liberation Serif", serif' font-size="8.2" fill="#2e2e2e">1</text>
<line x1="77.5" y1="214.71" x2="79.70" y2="214.71" stroke="#999" stroke-width="1"/>
<text x="69.80" y="217.81" text-anchor="end" font-family='"Liberation Serif", serif' font-size="8.2" fill="#2e2e2e">1.5</text>
<line x1="77.5" y1="201.85" x2="79.70" y2="201.85" stroke="#999" stroke-width="1"/>
<text x="69.80" y="204.95" text-anchor="end" font-family='"Liberation Serif", serif' font-size="8.2" fill="#2e2e2e">2</text>
<line x1="77.5" y1="188.99" x2="79.70" y2="188.99" stroke="#999" stroke-width="1"/>
<text x="69.80" y="192.09" text-anchor="end" font-family='"Liberation Serif", serif' font-size="8.2" fill="#2e2e2e">2.5</text>
<line x1="77.5" y1="176.12" x2="79.70" y2="176.12" stroke="#999" stroke-width="1"/>
<text x="69.80" y="179.22" text-anchor="end" font-family='"Liberation Serif", serif' font-size="8.2" fill="#2e2e2e">3</text>
<line x1="77.5" y1="163.26" x2="79.70" y2="163.26" stroke="#999" stroke-width="1"/>
<text x="69.80" y="166.36" text-anchor="end" font-family='"Liberation Serif", serif' font-size="8.2" fill="#2e2e2e">3.5</text>
<text x="69.80" y="153.50" text-anchor="end" font-family='"Liberation Serif", serif' font-size="8.2" fill="#2e2e2e">4</text>
<circle cx="80.79" cy="252.70" r="0.85" fill="#8a8a8a"/>
<circle cx="84.09" cy="252.70" r="0.85" fill="#8a8a8a"/>
<circle cx="87.38" cy="252.70" r="0.85" fill="#8a8a8a"/>
<circle cx="90.67" cy="252.70" r="0.85" fill="#8a8a8a"/>
<circle cx="93.96" cy="252.70" r="0.85" fill="#8a8a8a"/>
<circle cx="97.26" cy="252.70" r="0.85" fill="#8a8a8a"/>
<circle cx="100.55" cy="252.70" r="0.85" fill="#8a8a8a"/>
<circle cx="103.84" cy="252.70" r="0.85" fill="#8a8a8a"/>
<circle cx="107.14" cy="252.70" r="0.85" fill="#8a8a8a"/>
<circle cx="110.43" cy="252.70" r="0.85" fill="#8a8a8a"/>
<circle cx="113.72" cy="252.70" r="0.85" fill="#8a8a8a"/>
<circle cx="117.01" cy="252.70" r="0.85" fill="#8a8a8a"/>
<circle cx="120.31" cy="252.70" r="0.85" fill="#8a8a8a"/>
<circle cx="123.60" cy="252.70" r="0.85" fill="#8a8a8a"/>
<circle cx="126.89" cy="252.70" r="0.85" fill="#8a8a8a"/>
<circle cx="130.19" cy="252.70" r="0.85" fill="#8a8a8a"/>
<circle cx="133.48" cy="252.70" r="0.85" fill="#8a8a8a"/>
<circle cx="136.77" cy="252.70" r="0.85" fill="#8a8a8a"/>
<circle cx="140.06" cy="252.70" r="0.85" fill="#8a8a8a"/>
<circle cx="143.36" cy="252.70" r="0.85" fill="#8a8a8a"/>
<circle cx="146.65" cy="252.70" r="0.85" fill="#8a8a8a"/>
<circle cx="149.94" cy="252.70" r="0.85" fill="#8a8a8a"/>
<circle cx="153.24" cy="252.70" r="0.85" fill="#8a8a8a"/>
<circle cx="156.53" cy="252.70" r="0.85" fill="#8a8a8a"/>
<circle cx="159.82" cy="252.70" r="0.85" fill="#8a8a8a"/>
<circle cx="163.11" cy="252.70" r="0.85" fill="#8a8a8a"/>
<circle cx="166.41" cy="252.70" r="0.85" fill="#8a8a8a"/>
<circle cx="169.70" cy="252.70" r="0.85" fill="#8a8a8a"/>
<circle cx="172.99" cy="252.70" r="0.85" fill="#8a8a8a"/>
<circle cx="176.29" cy="252.70" r="0.85" fill="#8a8a8a"/>
<circle cx="179.58" cy="252.70" r="0.85" fill="#8a8a8a"/>
<circle cx="182.87" cy="252.70" r="0.85" fill="#8a8a8a"/>
<circle cx="186.16" cy="252.70" r="0.85" fill="#8a8a8a"/>
<circle cx="189.46" cy="252.70" r="0.85" fill="#8a8a8a"/>
<circle cx="192.75" cy="252.70" r="0.85" fill="#8a8a8a"/>
<circle cx="196.04" cy="252.70" r="0.85" fill="#8a8a8a"/>
<circle cx="199.34" cy="252.70" r="0.85" fill="#8a8a8a"/>
<circle cx="202.63" cy="252.70" r="0.85" fill="#8a8a8a"/>
<circle cx="205.92" cy="252.70" r="0.85" fill="#8a8a8a"/>
<circle cx="209.21" cy="252.70" r="0.85" fill="#8a8a8a"/>
<circle cx="212.51" cy="252.70" r="0.85" fill="#8a8a8a"/>
<text x="77.50" y="267.30" text-anchor="middle" font-family='"Liberation Serif", serif' font-size="8.2" fill="#2e2e2e">0</text>
<text x="93.96" y="267.30" text-anchor="middle" font-family='"Liberation Serif", serif' font-size="8.2" fill="#2e2e2e">5</text>
<text x="110.43" y="267.30" text-anchor="middle" font-family='"Liberation Serif", serif' font-size="8.2" fill="#2e2e2e">10</text>
<text x="126.89" y="267.30" text-anchor="middle" font-family='"Liberation Serif", serif' font-size="8.2" fill="#2e2e2e">15</text>
<text x="143.36" y="267.30" text-anchor="middle" font-family='"Liberation Serif", serif' font-size="8.2" fill="#2e2e2e">20</text>
<text x="159.82" y="267.30" text-anchor="middle" font-family='"Liberation Serif", serif' font-size="8.2" fill="#2e2e2e">25</text>
<text x="176.29" y="267.30" text-anchor="middle" font-family='"Liberation Serif", serif' font-size="8.2" fill="#2e2e2e">30</text>
<text x="192.75" y="267.30" text-anchor="middle" font-family='"Liberation Serif", serif' font-size="8.2" fill="#2e2e2e">35</text>
<text x="209.21" y="267.30" text-anchor="middle" font-family='"Liberation Serif", serif' font-size="8.2" fill="#2e2e2e">40</text>
<text x="84.1" y="164.8" font-family='"Liberation Serif", serif' font-weight="bold" font-size="15.35" fill="#1e1e1e">500 kHz</text>
<text x="78.60" y="274.50" font-family='"Liberation Serif", serif' font-weight="bold" font-size="9.65" fill="#2a2a2a">Peak Negative Pressure (MPa)</text>
<text transform="translate(49.4,201.3) rotate(-90)" text-anchor="middle" font-family='"Liberation Serif", serif' font-weight="bold" font-size="9.5" fill="#2a2a2a">Cloud Width (mm)</text>
<circle cx="166.11" cy="244.50" r="1.1" fill="#6a6a6a"/>
<circle cx="169.30" cy="239.74" r="1.1" fill="#6a6a6a"/>
<circle cx="172.50" cy="235.43" r="1.1" fill="#6a6a6a"/>
<circle cx="175.69" cy="231.82" r="1.1" fill="#6a6a6a"/>
<circle cx="178.89" cy="228.74" r="1.1" fill="#6a6a6a"/>
<circle cx="182.08" cy="226.13" r="1.1" fill="#6a6a6a"/>
<circle cx="185.28" cy="223.64" r="1.1" fill="#6a6a6a"/>
<circle cx="188.47" cy="220.96" r="1.1" fill="#6a6a6a"/>
<circle cx="191.66" cy="218.22" r="1.1" fill="#6a6a6a"/>
<circle cx="194.86" cy="215.57" r="1.1" fill="#6a6a6a"/>
<circle cx="198.05" cy="213.25" r="1.1" fill="#6a6a6a"/>
<circle cx="201.25" cy="211.65" r="1.1" fill="#6a6a6a"/>
<circle cx="204.44" cy="210.42" r="1.1" fill="#6a6a6a"/>
<circle cx="207.63" cy="208.81" r="1.1" fill="#6a6a6a"/>
<circle cx="210.83" cy="207.77" r="1.1" fill="#6a6a6a"/>
<circle cx="163.31" cy="252.10" r="1.7" fill="#8a8a8a" stroke="#444" stroke-width="0.9"/>
<line x1="169.70" y1="234.01" x2="169.70" y2="239.67" stroke="#555" stroke-width="0.9"/>
<line x1="168.70" y1="234.01" x2="170.70" y2="234.01" stroke="#555" stroke-width="0.8"/>
<line x1="168.70" y1="239.67" x2="170.70" y2="239.67" stroke="#555" stroke-width="0.8"/>
<circle cx="169.70" cy="236.84" r="1.8" fill="#7a7a7a" stroke="#3a3a3a" stroke-width="0.95"/>
<line x1="175.79" y1="228.09" x2="175.79" y2="239.41" stroke="#555" stroke-width="0.9"/>
<line x1="174.79" y1="228.09" x2="176.79" y2="228.09" stroke="#555" stroke-width="0.8"/>
<line x1="174.79" y1="239.41" x2="176.79" y2="239.41" stroke="#555" stroke-width="0.8"/>
<circle cx="175.79" cy="233.75" r="1.8" fill="#7a7a7a" stroke="#3a3a3a" stroke-width="0.95"/>
<line x1="180.90" y1="221.66" x2="180.90" y2="225.26" stroke="#555" stroke-width="0.9"/>
<line x1="179.90" y1="221.66" x2="181.90" y2="221.66" stroke="#555" stroke-width="0.8"/>
<line x1="179.90" y1="225.26" x2="181.90" y2="225.26" stroke="#555" stroke-width="0.8"/>
<circle cx="180.90" cy="223.46" r="1.8" fill="#7a7a7a" stroke="#3a3a3a" stroke-width="0.95"/>
<line x1="186.99" y1="216.26" x2="186.99" y2="219.34" stroke="#555" stroke-width="0.9"/>
<line x1="185.99" y1="216.26" x2="187.99" y2="216.26" stroke="#555" stroke-width="0.8"/>
<line x1="185.99" y1="219.34" x2="187.99" y2="219.34" stroke="#555" stroke-width="0.8"/>
<circle cx="186.99" cy="217.80" r="1.8" fill="#7a7a7a" stroke="#3a3a3a" stroke-width="0.95"/>
<line x1="192.29" y1="211.11" x2="192.29" y2="214.20" stroke="#555" stroke-width="0.9"/>
<line x1="191.29" y1="211.11" x2="193.29" y2="211.11" stroke="#555" stroke-width="0.8"/>
<line x1="191.29" y1="214.20" x2="193.29" y2="214.20" stroke="#555" stroke-width="0.8"/>
<circle cx="192.29" cy="212.65" r="1.8" fill="#7a7a7a" stroke="#3a3a3a" stroke-width="0.95"/>
<line x1="197.89" y1="205.19" x2="197.89" y2="208.28" stroke="#555" stroke-width="0.9"/>
<line x1="196.89" y1="205.19" x2="198.89" y2="205.19" stroke="#555" stroke-width="0.8"/>
<line x1="196.89" y1="208.28" x2="198.89" y2="208.28" stroke="#555" stroke-width="0.8"/>
<circle cx="197.89" cy="206.74" r="1.8" fill="#7a7a7a" stroke="#3a3a3a" stroke-width="0.95"/>
<line x1="203.09" y1="202.36" x2="203.09" y2="205.45" stroke="#555" stroke-width="0.9"/>
<line x1="202.09" y1="202.36" x2="204.09" y2="202.36" stroke="#555" stroke-width="0.8"/>
<line x1="202.09" y1="205.45" x2="204.09" y2="205.45" stroke="#555" stroke-width="0.8"/>
<circle cx="203.09" cy="203.91" r="1.8" fill="#7a7a7a" stroke="#3a3a3a" stroke-width="0.95"/>
<line x1="208.69" y1="199.02" x2="208.69" y2="202.11" stroke="#555" stroke-width="0.9"/>
<line x1="207.69" y1="199.02" x2="209.69" y2="199.02" stroke="#555" stroke-width="0.8"/>
<line x1="207.69" y1="202.11" x2="209.69" y2="202.11" stroke="#555" stroke-width="0.8"/>
<circle cx="208.69" cy="200.56" r="1.8" fill="#7a7a7a" stroke="#3a3a3a" stroke-width="0.95"/>
<line x1="226.35000000000002" y1="143.55" x2="412.15" y2="143.55" stroke="#1c1c1c" stroke-width="1.1"/>
<line x1="226.35000000000002" y1="277.7" x2="412.15" y2="277.7" stroke="#1c1c1c" stroke-width="1.9"/>
<line x1="227.3" y1="143.0" x2="227.3" y2="278.65" stroke="#1c1c1c" stroke-width="1.9"/>
<line x1="411.2" y1="143.0" x2="411.2" y2="278.65" stroke="#1c1c1c" stroke-width="1.9"/>
<rect x="266.0" y="150.4" width="138.40" height="102.90" fill="none" stroke="#c4c4c4" stroke-width="1"/>
<line x1="266.0" y1="150.4" x2="266.0" y2="253.3" stroke="#a8a8a8" stroke-width="1.1"/>
<line x1="266.0" y1="253.3" x2="404.4" y2="253.3" stroke="#a8a8a8" stroke-width="1.1"/>
<text x="258.30" y="256.40" text-anchor="end" font-family='"Liberation Serif", serif' font-size="8.2" fill="#2e2e2e">0</text>
<line x1="266.0" y1="240.44" x2="268.20" y2="240.44" stroke="#999" stroke-width="1"/>
<text x="258.30" y="243.54" text-anchor="end" font-family='"Liberation Serif", serif' font-size="8.2" fill="#2e2e2e">0.25</text>
<line x1="266.0" y1="227.58" x2="268.20" y2="227.58" stroke="#999" stroke-width="1"/>
<text x="258.30" y="230.68" text-anchor="end" font-family='"Liberation Serif", serif' font-size="8.2" fill="#2e2e2e">0.5</text>
<line x1="266.0" y1="214.71" x2="268.20" y2="214.71" stroke="#999" stroke-width="1"/>
<text x="258.30" y="217.81" text-anchor="end" font-family='"Liberation Serif", serif' font-size="8.2" fill="#2e2e2e">0.75</text>
<line x1="266.0" y1="201.85" x2="268.20" y2="201.85" stroke="#999" stroke-width="1"/>
<text x="258.30" y="204.95" text-anchor="end" font-family='"Liberation Serif", serif' font-size="8.2" fill="#2e2e2e">1</text>
<line x1="266.0" y1="188.99" x2="268.20" y2="188.99" stroke="#999" stroke-width="1"/>
<text x="258.30" y="192.09" text-anchor="end" font-family='"Liberation Serif", serif' font-size="8.2" fill="#2e2e2e">1.25</text>
<line x1="266.0" y1="176.12" x2="268.20" y2="176.12" stroke="#999" stroke-width="1"/>
<text x="258.30" y="179.22" text-anchor="end" font-family='"Liberation Serif", serif' font-size="8.2" fill="#2e2e2e">1.5</text>
<line x1="266.0" y1="163.26" x2="268.20" y2="163.26" stroke="#999" stroke-width="1"/>
<text x="258.30" y="166.36" text-anchor="end" font-family='"Liberation Serif", serif' font-size="8.2" fill="#2e2e2e">1.75</text>
<text x="258.30" y="153.50" text-anchor="end" font-family='"Liberation Serif", serif' font-size="8.2" fill="#2e2e2e">2</text>
<circle cx="269.30" cy="252.70" r="0.85" fill="#8a8a8a"/>
<circle cx="272.59" cy="252.70" r="0.85" fill="#8a8a8a"/>
<circle cx="275.89" cy="252.70" r="0.85" fill="#8a8a8a"/>
<circle cx="279.18" cy="252.70" r="0.85" fill="#8a8a8a"/>
<circle cx="282.48" cy="252.70" r="0.85" fill="#8a8a8a"/>
<circle cx="285.77" cy="252.70" r="0.85" fill="#8a8a8a"/>
<circle cx="289.07" cy="252.70" r="0.85" fill="#8a8a8a"/>
<circle cx="292.36" cy="252.70" r="0.85" fill="#8a8a8a"/>
<circle cx="295.66" cy="252.70" r="0.85" fill="#8a8a8a"/>
<circle cx="298.95" cy="252.70" r="0.85" fill="#8a8a8a"/>
<circle cx="302.25" cy="252.70" r="0.85" fill="#8a8a8a"/>
<circle cx="305.54" cy="252.70" r="0.85" fill="#8a8a8a"/>
<circle cx="308.84" cy="252.70" r="0.85" fill="#8a8a8a"/>
<circle cx="312.13" cy="252.70" r="0.85" fill="#8a8a8a"/>
<circle cx="315.43" cy="252.70" r="0.85" fill="#8a8a8a"/>
<circle cx="318.72" cy="252.70" r="0.85" fill="#8a8a8a"/>
<circle cx="322.02" cy="252.70" r="0.85" fill="#8a8a8a"/>
<circle cx="325.31" cy="252.70" r="0.85" fill="#8a8a8a"/>
<circle cx="328.61" cy="252.70" r="0.85" fill="#8a8a8a"/>
<circle cx="331.90" cy="252.70" r="0.85" fill="#8a8a8a"/>
<circle cx="335.20" cy="252.70" r="0.85" fill="#8a8a8a"/>
<circle cx="338.50" cy="252.70" r="0.85" fill="#8a8a8a"/>
<circle cx="341.79" cy="252.70" r="0.85" fill="#8a8a8a"/>
<circle cx="345.09" cy="252.70" r="0.85" fill="#8a8a8a"/>
<circle cx="348.38" cy="252.70" r="0.85" fill="#8a8a8a"/>
<circle cx="351.68" cy="252.70" r="0.85" fill="#8a8a8a"/>
<circle cx="354.97" cy="252.70" r="0.85" fill="#8a8a8a"/>
<circle cx="358.27" cy="252.70" r="0.85" fill="#8a8a8a"/>
<circle cx="361.56" cy="252.70" r="0.85" fill="#8a8a8a"/>
<circle cx="364.86" cy="252.70" r="0.85" fill="#8a8a8a"/>
<circle cx="368.15" cy="252.70" r="0.85" fill="#8a8a8a"/>
<circle cx="371.45" cy="252.70" r="0.85" fill="#8a8a8a"/>
<circle cx="374.74" cy="252.70" r="0.85" fill="#8a8a8a"/>
<circle cx="378.04" cy="252.70" r="0.85" fill="#8a8a8a"/>
<circle cx="381.33" cy="252.70" r="0.85" fill="#8a8a8a"/>
<circle cx="384.63" cy="252.70" r="0.85" fill="#8a8a8a"/>
<circle cx="387.92" cy="252.70" r="0.85" fill="#8a8a8a"/>
<circle cx="391.22" cy="252.70" r="0.85" fill="#8a8a8a"/>
<circle cx="394.51" cy="252.70" r="0.85" fill="#8a8a8a"/>
<circle cx="397.81" cy="252.70" r="0.85" fill="#8a8a8a"/>
<circle cx="401.10" cy="252.70" r="0.85" fill="#8a8a8a"/>
<text x="266.00" y="267.30" text-anchor="middle" font-family='"Liberation Serif", serif' font-size="8.2" fill="#2e2e2e">0</text>
<text x="282.48" y="267.30" text-anchor="middle" font-family='"Liberation Serif", serif' font-size="8.2" fill="#2e2e2e">5</text>
<text x="298.95" y="267.30" text-anchor="middle" font-family='"Liberation Serif", serif' font-size="8.2" fill="#2e2e2e">10</text>
<text x="315.43" y="267.30" text-anchor="middle" font-family='"Liberation Serif", serif' font-size="8.2" fill="#2e2e2e">15</text>
<text x="331.90" y="267.30" text-anchor="middle" font-family='"Liberation Serif", serif' font-size="8.2" fill="#2e2e2e">20</text>
<text x="348.38" y="267.30" text-anchor="middle" font-family='"Liberation Serif", serif' font-size="8.2" fill="#2e2e2e">25</text>
<text x="364.86" y="267.30" text-anchor="middle" font-family='"Liberation Serif", serif' font-size="8.2" fill="#2e2e2e">30</text>
<text x="381.33" y="267.30" text-anchor="middle" font-family='"Liberation Serif", serif' font-size="8.2" fill="#2e2e2e">35</text>
<text x="397.81" y="267.30" text-anchor="middle" font-family='"Liberation Serif", serif' font-size="8.2" fill="#2e2e2e">40</text>
<text x="269.5" y="165.2" font-family='"Liberation Serif", serif' font-weight="bold" font-size="15.35" fill="#1e1e1e">1 MHz</text>
<text x="267.50" y="274.50" font-family='"Liberation Serif", serif' font-weight="bold" font-size="9.65" fill="#2a2a2a">Peak Negative Pressure(MPa)</text>
<text transform="translate(236.9,200.9) rotate(-90)" text-anchor="middle" font-family='"Liberation Serif", serif' font-weight="bold" font-size="9.75" fill="#2a2a2a">Cloud Width(mm)</text>
<circle cx="363.04" cy="240.76" r="1.1" fill="#6a6a6a"/>
<circle cx="366.24" cy="234.05" r="1.1" fill="#6a6a6a"/>
<circle cx="369.44" cy="230.06" r="1.1" fill="#6a6a6a"/>
<circle cx="372.63" cy="226.54" r="1.1" fill="#6a6a6a"/>
<circle cx="375.83" cy="223.04" r="1.1" fill="#6a6a6a"/>
<circle cx="379.03" cy="219.23" r="1.1" fill="#6a6a6a"/>
<circle cx="382.22" cy="215.56" r="1.1" fill="#6a6a6a"/>
<circle cx="385.42" cy="213.15" r="1.1" fill="#6a6a6a"/>
<circle cx="388.62" cy="210.68" r="1.1" fill="#6a6a6a"/>
<circle cx="391.81" cy="208.67" r="1.1" fill="#6a6a6a"/>
<circle cx="395.01" cy="207.25" r="1.1" fill="#6a6a6a"/>
<circle cx="398.20" cy="205.76" r="1.1" fill="#6a6a6a"/>
<circle cx="360.24" cy="253.90" r="1.0" fill="#555"/>
<circle cx="357.81" cy="243.01" r="1.8" fill="#7a7a7a" stroke="#3a3a3a" stroke-width="0.95"/>
<line x1="364.86" y1="234.78" x2="364.86" y2="246.10" stroke="#555" stroke-width="0.9"/>
<line x1="363.86" y1="234.78" x2="365.86" y2="234.78" stroke="#555" stroke-width="0.8"/>
<line x1="363.86" y1="246.10" x2="365.86" y2="246.10" stroke="#555" stroke-width="0.8"/>
<circle cx="364.86" cy="240.44" r="1.8" fill="#7a7a7a" stroke="#3a3a3a" stroke-width="0.95"/>
<line x1="371.45" y1="219.86" x2="371.45" y2="237.35" stroke="#555" stroke-width="0.9"/>
<line x1="370.45" y1="219.86" x2="372.45" y2="219.86" stroke="#555" stroke-width="0.8"/>
<line x1="370.45" y1="237.35" x2="372.45" y2="237.35" stroke="#555" stroke-width="0.8"/>
<circle cx="371.45" cy="228.60" r="1.8" fill="#7a7a7a" stroke="#3a3a3a" stroke-width="0.95"/>
<line x1="378.14" y1="221.14" x2="378.14" y2="226.29" stroke="#555" stroke-width="0.9"/>
<line x1="377.14" y1="221.14" x2="379.14" y2="221.14" stroke="#555" stroke-width="0.8"/>
<line x1="377.14" y1="226.29" x2="379.14" y2="226.29" stroke="#555" stroke-width="0.8"/>
<circle cx="378.14" cy="223.72" r="1.8" fill="#7a7a7a" stroke="#3a3a3a" stroke-width="0.95"/>
<line x1="384.96" y1="206.48" x2="384.96" y2="213.68" stroke="#555" stroke-width="0.9"/>
<line x1="383.96" y1="206.48" x2="385.96" y2="206.48" stroke="#555" stroke-width="0.8"/>
<line x1="383.96" y1="213.68" x2="385.96" y2="213.68" stroke="#555" stroke-width="0.8"/>
<circle cx="384.96" cy="210.08" r="1.8" fill="#7a7a7a" stroke="#3a3a3a" stroke-width="0.95"/>
<line x1="391.22" y1="188.47" x2="391.22" y2="207.00" stroke="#555" stroke-width="0.9"/>
<line x1="390.22" y1="188.47" x2="392.22" y2="188.47" stroke="#555" stroke-width="0.8"/>
<line x1="390.22" y1="207.00" x2="392.22" y2="207.00" stroke="#555" stroke-width="0.8"/>
<circle cx="391.22" cy="197.73" r="1.8" fill="#7a7a7a" stroke="#3a3a3a" stroke-width="0.95"/>
<line x1="398.01" y1="163.01" x2="398.01" y2="189.24" stroke="#555" stroke-width="0.9"/>
<line x1="397.01" y1="163.01" x2="399.01" y2="163.01" stroke="#555" stroke-width="0.8"/>
<line x1="397.01" y1="189.24" x2="399.01" y2="189.24" stroke="#555" stroke-width="0.8"/>
<circle cx="398.01" cy="176.12" r="1.8" fill="#7a7a7a" stroke="#3a3a3a" stroke-width="0.95"/>
<line x1="414.25" y1="143.55" x2="599.5500000000001" y2="143.55" stroke="#1c1c1c" stroke-width="1.1"/>
<line x1="414.25" y1="277.7" x2="599.5500000000001" y2="277.7" stroke="#1c1c1c" stroke-width="1.9"/>
<line x1="415.2" y1="143.0" x2="415.2" y2="278.65" stroke="#1c1c1c" stroke-width="1.9"/>
<line x1="598.6" y1="143.0" x2="598.6" y2="278.65" stroke="#1c1c1c" stroke-width="1.9"/>
<rect x="454.7" y="150.4" width="137.60" height="102.90" fill="none" stroke="#c4c4c4" stroke-width="1"/>
<line x1="454.7" y1="150.4" x2="454.7" y2="253.3" stroke="#a8a8a8" stroke-width="1.1"/>
<line x1="454.7" y1="253.3" x2="592.3" y2="253.3" stroke="#a8a8a8" stroke-width="1.1"/>
<text x="447.00" y="256.40" text-anchor="end" font-family='"Liberation Serif", serif' font-size="8.2" fill="#2e2e2e">0</text>
<line x1="454.7" y1="240.44" x2="456.90" y2="240.44" stroke="#999" stroke-width="1"/>
<text x="447.00" y="243.54" text-anchor="end" font-family='"Liberation Serif", serif' font-size="8.2" fill="#2e2e2e">0.125</text>
<line x1="454.7" y1="227.58" x2="456.90" y2="227.58" stroke="#999" stroke-width="1"/>
<text x="447.00" y="230.68" text-anchor="end" font-family='"Liberation Serif", serif' font-size="8.2" fill="#2e2e2e">0.25</text>
<line x1="454.7" y1="214.71" x2="456.90" y2="214.71" stroke="#999" stroke-width="1"/>
<text x="447.00" y="217.81" text-anchor="end" font-family='"Liberation Serif", serif' font-size="8.2" fill="#2e2e2e">0.375</text>
<line x1="454.7" y1="201.85" x2="456.90" y2="201.85" stroke="#999" stroke-width="1"/>
<text x="447.00" y="204.95" text-anchor="end" font-family='"Liberation Serif", serif' font-size="8.2" fill="#2e2e2e">0.5</text>
<line x1="454.7" y1="188.99" x2="456.90" y2="188.99" stroke="#999" stroke-width="1"/>
<text x="447.00" y="192.09" text-anchor="end" font-family='"Liberation Serif", serif' font-size="8.2" fill="#2e2e2e">0.625</text>
<line x1="454.7" y1="176.12" x2="456.90" y2="176.12" stroke="#999" stroke-width="1"/>
<text x="447.00" y="179.22" text-anchor="end" font-family='"Liberation Serif", serif' font-size="8.2" fill="#2e2e2e">0.75</text>
<line x1="454.7" y1="163.26" x2="456.90" y2="163.26" stroke="#999" stroke-width="1"/>
<text x="447.00" y="166.36" text-anchor="end" font-family='"Liberation Serif", serif' font-size="8.2" fill="#2e2e2e">0.875</text>
<text x="447.00" y="153.50" text-anchor="end" font-family='"Liberation Serif", serif' font-size="8.2" fill="#2e2e2e">1</text>
<circle cx="457.98" cy="252.70" r="0.85" fill="#8a8a8a"/>
<circle cx="461.25" cy="252.70" r="0.85" fill="#8a8a8a"/>
<circle cx="464.53" cy="252.70" r="0.85" fill="#8a8a8a"/>
<circle cx="467.80" cy="252.70" r="0.85" fill="#8a8a8a"/>
<circle cx="471.08" cy="252.70" r="0.85" fill="#8a8a8a"/>
<circle cx="474.36" cy="252.70" r="0.85" fill="#8a8a8a"/>
<circle cx="477.63" cy="252.70" r="0.85" fill="#8a8a8a"/>
<circle cx="480.91" cy="252.70" r="0.85" fill="#8a8a8a"/>
<circle cx="484.19" cy="252.70" r="0.85" fill="#8a8a8a"/>
<circle cx="487.46" cy="252.70" r="0.85" fill="#8a8a8a"/>
<circle cx="490.74" cy="252.70" r="0.85" fill="#8a8a8a"/>
<circle cx="494.01" cy="252.70" r="0.85" fill="#8a8a8a"/>
<circle cx="497.29" cy="252.70" r="0.85" fill="#8a8a8a"/>
<circle cx="500.57" cy="252.70" r="0.85" fill="#8a8a8a"/>
<circle cx="503.84" cy="252.70" r="0.85" fill="#8a8a8a"/>
<circle cx="507.12" cy="252.70" r="0.85" fill="#8a8a8a"/>
<circle cx="510.40" cy="252.70" r="0.85" fill="#8a8a8a"/>
<circle cx="513.67" cy="252.70" r="0.85" fill="#8a8a8a"/>
<circle cx="516.95" cy="252.70" r="0.85" fill="#8a8a8a"/>
<circle cx="520.22" cy="252.70" r="0.85" fill="#8a8a8a"/>
<circle cx="523.50" cy="252.70" r="0.85" fill="#8a8a8a"/>
<circle cx="526.78" cy="252.70" r="0.85" fill="#8a8a8a"/>
<circle cx="530.05" cy="252.70" r="0.85" fill="#8a8a8a"/>
<circle cx="533.33" cy="252.70" r="0.85" fill="#8a8a8a"/>
<circle cx="536.60" cy="252.70" r="0.85" fill="#8a8a8a"/>
<circle cx="539.88" cy="252.70" r="0.85" fill="#8a8a8a"/>
<circle cx="543.16" cy="252.70" r="0.85" fill="#8a8a8a"/>
<circle cx="546.43" cy="252.70" r="0.85" fill="#8a8a8a"/>
<circle cx="549.71" cy="252.70" r="0.85" fill="#8a8a8a"/>
<circle cx="552.99" cy="252.70" r="0.85" fill="#8a8a8a"/>
<circle cx="556.26" cy="252.70" r="0.85" fill="#8a8a8a"/>
<circle cx="559.54" cy="252.70" r="0.85" fill="#8a8a8a"/>
<circle cx="562.81" cy="252.70" r="0.85" fill="#8a8a8a"/>
<circle cx="566.09" cy="252.70" r="0.85" fill="#8a8a8a"/>
<circle cx="569.37" cy="252.70" r="0.85" fill="#8a8a8a"/>
<circle cx="572.64" cy="252.70" r="0.85" fill="#8a8a8a"/>
<circle cx="575.92" cy="252.70" r="0.85" fill="#8a8a8a"/>
<circle cx="579.20" cy="252.70" r="0.85" fill="#8a8a8a"/>
<circle cx="582.47" cy="252.70" r="0.85" fill="#8a8a8a"/>
<circle cx="585.75" cy="252.70" r="0.85" fill="#8a8a8a"/>
<circle cx="589.02" cy="252.70" r="0.85" fill="#8a8a8a"/>
<text x="454.70" y="267.30" text-anchor="middle" font-family='"Liberation Serif", serif' font-size="8.2" fill="#2e2e2e">0</text>
<text x="471.08" y="267.30" text-anchor="middle" font-family='"Liberation Serif", serif' font-size="8.2" fill="#2e2e2e">5</text>
<text x="487.46" y="267.30" text-anchor="middle" font-family='"Liberation Serif", serif' font-size="8.2" fill="#2e2e2e">10</text>
<text x="503.84" y="267.30" text-anchor="middle" font-family='"Liberation Serif", serif' font-size="8.2" fill="#2e2e2e">15</text>
<text x="520.22" y="267.30" text-anchor="middle" font-family='"Liberation Serif", serif' font-size="8.2" fill="#2e2e2e">20</text>
<text x="536.60" y="267.30" text-anchor="middle" font-family='"Liberation Serif", serif' font-size="8.2" fill="#2e2e2e">25</text>
<text x="552.99" y="267.30" text-anchor="middle" font-family='"Liberation Serif", serif' font-size="8.2" fill="#2e2e2e">30</text>
<text x="569.37" y="267.30" text-anchor="middle" font-family='"Liberation Serif", serif' font-size="8.2" fill="#2e2e2e">35</text>
<text x="585.75" y="267.30" text-anchor="middle" font-family='"Liberation Serif", serif' font-size="8.2" fill="#2e2e2e">40</text>
<text x="458.3" y="165.2" font-family='"Liberation Serif", serif' font-weight="bold" font-size="15.35" fill="#1e1e1e">3 MHz</text>
<text x="455.40" y="274.50" font-family='"Liberation Serif", serif' font-weight="bold" font-size="9.65" fill="#2a2a2a">Peak Negative Pressure(MPa)</text>
<text transform="translate(425.6,199.7) rotate(-90)" text-anchor="middle" font-family='"Liberation Serif", serif' font-weight="bold" font-size="9.5" fill="#2a2a2a">Cloud Width (mm)</text>
<circle cx="538.41" cy="246.07" r="1.1" fill="#6a6a6a"/>
<circle cx="541.58" cy="237.55" r="1.1" fill="#6a6a6a"/>
<circle cx="544.76" cy="229.51" r="1.1" fill="#6a6a6a"/>
<circle cx="547.94" cy="225.23" r="1.1" fill="#6a6a6a"/>
<circle cx="551.12" cy="221.58" r="1.1" fill="#6a6a6a"/>
<circle cx="554.30" cy="219.09" r="1.1" fill="#6a6a6a"/>
<circle cx="557.47" cy="216.62" r="1.1" fill="#6a6a6a"/>
<circle cx="560.65" cy="214.25" r="1.1" fill="#6a6a6a"/>
<circle cx="563.83" cy="211.96" r="1.1" fill="#6a6a6a"/>
<circle cx="567.01" cy="210.37" r="1.1" fill="#6a6a6a"/>
<circle cx="570.19" cy="208.78" r="1.1" fill="#6a6a6a"/>
<circle cx="573.36" cy="207.37" r="1.1" fill="#6a6a6a"/>
<circle cx="576.54" cy="205.98" r="1.1" fill="#6a6a6a"/>
<circle cx="579.72" cy="204.59" r="1.1" fill="#6a6a6a"/>
<circle cx="582.90" cy="203.23" r="1.1" fill="#6a6a6a"/>
<circle cx="586.08" cy="201.98" r="1.1" fill="#6a6a6a"/>
<circle cx="535.62" cy="253.90" r="1.0" fill="#555"/>
<line x1="533.66" y1="226.55" x2="533.66" y2="253.30" stroke="#555" stroke-width="0.9"/>
<line x1="532.66" y1="226.55" x2="534.66" y2="226.55" stroke="#555" stroke-width="0.8"/>
<line x1="532.66" y1="253.30" x2="534.66" y2="253.30" stroke="#555" stroke-width="0.8"/>
<circle cx="533.66" cy="243.01" r="1.8" fill="#7a7a7a" stroke="#3a3a3a" stroke-width="0.95"/>
<line x1="539.72" y1="223.15" x2="539.72" y2="238.79" stroke="#555" stroke-width="0.9"/>
<line x1="538.72" y1="223.15" x2="540.72" y2="223.15" stroke="#555" stroke-width="0.8"/>
<line x1="538.72" y1="238.79" x2="540.72" y2="238.79" stroke="#555" stroke-width="0.8"/>
<circle cx="539.72" cy="230.97" r="1.8" fill="#7a7a7a" stroke="#3a3a3a" stroke-width="0.95"/>
<line x1="546.43" y1="221.40" x2="546.43" y2="225.52" stroke="#555" stroke-width="0.9"/>
<line x1="545.43" y1="221.40" x2="547.43" y2="221.40" stroke="#555" stroke-width="0.8"/>
<line x1="545.43" y1="225.52" x2="547.43" y2="225.52" stroke="#555" stroke-width="0.8"/>
<circle cx="546.43" cy="223.46" r="1.8" fill="#7a7a7a" stroke="#3a3a3a" stroke-width="0.95"/>
<line x1="552.99" y1="217.29" x2="552.99" y2="221.40" stroke="#555" stroke-width="0.9"/>
<line x1="551.99" y1="217.29" x2="553.99" y2="217.29" stroke="#555" stroke-width="0.8"/>
<line x1="551.99" y1="221.40" x2="553.99" y2="221.40" stroke="#555" stroke-width="0.8"/>
<circle cx="552.99" cy="219.34" r="1.8" fill="#7a7a7a" stroke="#3a3a3a" stroke-width="0.95"/>
<line x1="559.54" y1="210.08" x2="559.54" y2="214.20" stroke="#555" stroke-width="0.9"/>
<line x1="558.54" y1="210.08" x2="560.54" y2="210.08" stroke="#555" stroke-width="0.8"/>
<line x1="558.54" y1="214.20" x2="560.54" y2="214.20" stroke="#555" stroke-width="0.8"/>
<circle cx="559.54" cy="212.14" r="1.8" fill="#7a7a7a" stroke="#3a3a3a" stroke-width="0.95"/>
<line x1="566.42" y1="205.35" x2="566.42" y2="209.46" stroke="#555" stroke-width="0.9"/>
<line x1="565.42" y1="205.35" x2="567.42" y2="205.35" stroke="#555" stroke-width="0.8"/>
<line x1="565.42" y1="209.46" x2="567.42" y2="209.46" stroke="#555" stroke-width="0.8"/>
<circle cx="566.42" cy="207.41" r="1.8" fill="#7a7a7a" stroke="#3a3a3a" stroke-width="0.95"/>
<line x1="573.13" y1="201.13" x2="573.13" y2="205.25" stroke="#555" stroke-width="0.9"/>
<line x1="572.13" y1="201.13" x2="574.13" y2="201.13" stroke="#555" stroke-width="0.8"/>
<line x1="572.13" y1="205.25" x2="574.13" y2="205.25" stroke="#555" stroke-width="0.8"/>
<circle cx="573.13" cy="203.19" r="1.8" fill="#7a7a7a" stroke="#3a3a3a" stroke-width="0.95"/>
<line x1="579.20" y1="198.76" x2="579.20" y2="202.88" stroke="#555" stroke-width="0.9"/>
<line x1="578.20" y1="198.76" x2="580.20" y2="198.76" stroke="#555" stroke-width="0.8"/>
<line x1="578.20" y1="202.88" x2="580.20" y2="202.88" stroke="#555" stroke-width="0.8"/>
<circle cx="579.20" cy="200.82" r="1.8" fill="#7a7a7a" stroke="#3a3a3a" stroke-width="0.95"/>
<line x1="586.08" y1="197.22" x2="586.08" y2="201.34" stroke="#555" stroke-width="0.9"/>
<line x1="585.08" y1="197.22" x2="587.08" y2="197.22" stroke="#555" stroke-width="0.8"/>
<line x1="585.08" y1="201.34" x2="587.08" y2="201.34" stroke="#555" stroke-width="0.8"/>
<circle cx="586.08" cy="199.28" r="1.8" fill="#7a7a7a" stroke="#3a3a3a" stroke-width="0.95"/>
</svg>
</body></html>
